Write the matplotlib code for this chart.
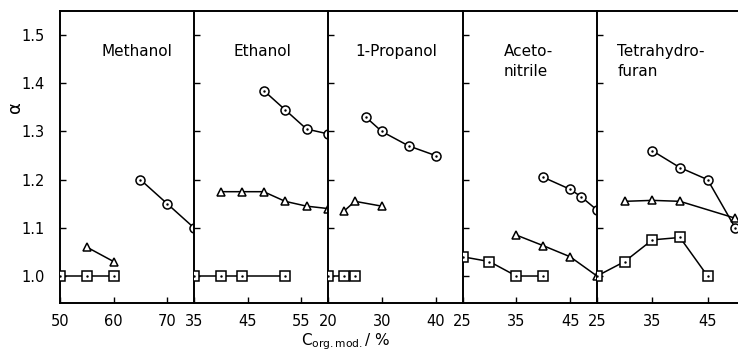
import matplotlib
matplotlib.use("Agg")
import matplotlib.pyplot as plt

# --- data ---
panel_names = ["Methanol", "Ethanol", "1-Propanol", "Aceto-\nnitrile", "Tetrahydro-\nfuran"]
panel_xlims = [(50, 75), (35, 60), (20, 45), (25, 50), (25, 50.5)]
panel_xticks = [[50, 60, 70], [35, 45, 55], [20, 30, 40], [25, 35, 45], [25, 35, 45]]
y_ticks = [1.0, 1.1, 1.2, 1.3, 1.4, 1.5]

meoh_sq_x = [50, 55, 60]
meoh_sq_y = [1.00, 1.00, 1.00]
meoh_tri_x = [55, 60]
meoh_tri_y = [1.06, 1.03]
meoh_ci_x = [65, 70, 75]
meoh_ci_y = [1.20, 1.15, 1.10]

etoh_sq_x = [35, 40, 44, 52]
etoh_sq_y = [1.00, 1.00, 1.00, 1.00]
etoh_tri_x = [40, 44, 48, 52, 56, 60]
etoh_tri_y = [1.175, 1.175, 1.175, 1.155, 1.145, 1.14]
etoh_ci_x = [48, 52, 56, 60]
etoh_ci_y = [1.385, 1.345, 1.305, 1.295]

prop_sq_x = [20, 23, 25]
prop_sq_y = [1.00, 1.00, 1.00]
prop_tri_x = [23, 25, 30]
prop_tri_y = [1.135, 1.155, 1.145]
prop_ci_x = [27, 30, 35, 40]
prop_ci_y = [1.33, 1.30, 1.27, 1.25]

acn_sq_x = [25, 30, 35, 40]
acn_sq_y = [1.04, 1.03, 1.00, 1.00]
acn_tri_x = [35, 40, 45, 50]
acn_tri_y = [1.085, 1.063, 1.04, 1.00]
acn_ci_x = [40, 45, 47, 50]
acn_ci_y = [1.205, 1.18, 1.165, 1.137]

thf_sq_x = [25, 30, 35, 40, 45]
thf_sq_y = [1.00, 1.03, 1.075, 1.08, 1.00]
thf_tri_x = [30, 35, 40, 50]
thf_tri_y = [1.155, 1.157, 1.155, 1.12]
thf_ci_x = [35, 40, 45, 50]
thf_ci_y = [1.26, 1.225, 1.20, 1.10]

series = [
    [(meoh_sq_x, meoh_sq_y, "s"), (meoh_tri_x, meoh_tri_y, "^"), (meoh_ci_x, meoh_ci_y, "o")],
    [(etoh_sq_x, etoh_sq_y, "s"), (etoh_tri_x, etoh_tri_y, "^"), (etoh_ci_x, etoh_ci_y, "o")],
    [(prop_sq_x, prop_sq_y, "s"), (prop_tri_x, prop_tri_y, "^"), (prop_ci_x, prop_ci_y, "o")],
    [(acn_sq_x, acn_sq_y, "s"), (acn_tri_x, acn_tri_y, "^"), (acn_ci_x, acn_ci_y, "o")],
    [(thf_sq_x, thf_sq_y, "s"), (thf_tri_x, thf_tri_y, "^"), (thf_ci_x, thf_ci_y, "o")],
]

# --- layout (pixels of the 738x357 figure) ---
W, H = 738, 357
edges = [60, 194, 328, 462.5, 597, 738]
y_top, y_bot = 11, 303
label_pos = [(64.4, 1.465, "center"), (47.7, 1.465, "center"), (32.7, 1.465, "center"),
             (32.7, 1.445, "left"), (28.7, 1.445, "left")]

fig = plt.figure(figsize=(W / 100, H / 100), dpi=100)

for i in range(5):
    x0, x1 = edges[i], edges[i + 1]
    ax = fig.add_axes([x0 / W, 1 - y_bot / H, (x1 - x0) / W, (y_bot - y_top) / H])
    ax.set_xlim(*panel_xlims[i])
    ax.set_ylim(0.944, 1.55)
    for xs, ys, m in series[i]:
        ax.plot(xs, ys, color="black", lw=1.1, marker=m, ms=6.5 if m != "^" else 6,
                mfc="white", mec="black", mew=1.1, zorder=3)
        if m != "^":
            ax.plot(xs, ys, ls="none", marker=".", ms=1.5, color="black", zorder=4)
    ax.set_xticks(panel_xticks[i])
    ax.set_yticks(y_ticks)
    ax.tick_params(direction="in", length=4, width=1, labelsize=10.5)
    ax.tick_params(axis="x", pad=8)
    ax.tick_params(axis="y", pad=11)
    if i == 0:
        ax.set_yticklabels(["1.0", "1.1", "1.2", "1.3", "1.4", "1.5"])
    else:
        ax.set_yticklabels([])
    for s in ["left", "top", "bottom"]:
        ax.spines[s].set_linewidth(1.4)
    ax.spines["right"].set_visible(False)
    lx, ly, ha = label_pos[i]
    ax.text(lx, ly, panel_names[i], ha=ha, va="center", fontsize=11,
            linespacing=1.4)

fig.text(15 / W, 1 - 107 / H, "α", rotation=90, ha="center", va="center", fontsize=13)
fig.text(346 / W, 1 - 342 / H, r"C$_{\mathrm{org.mod.}}$/ %", ha="center", va="center",
         fontsize=11)

fig.savefig("out.png", dpi=100, facecolor="white")
